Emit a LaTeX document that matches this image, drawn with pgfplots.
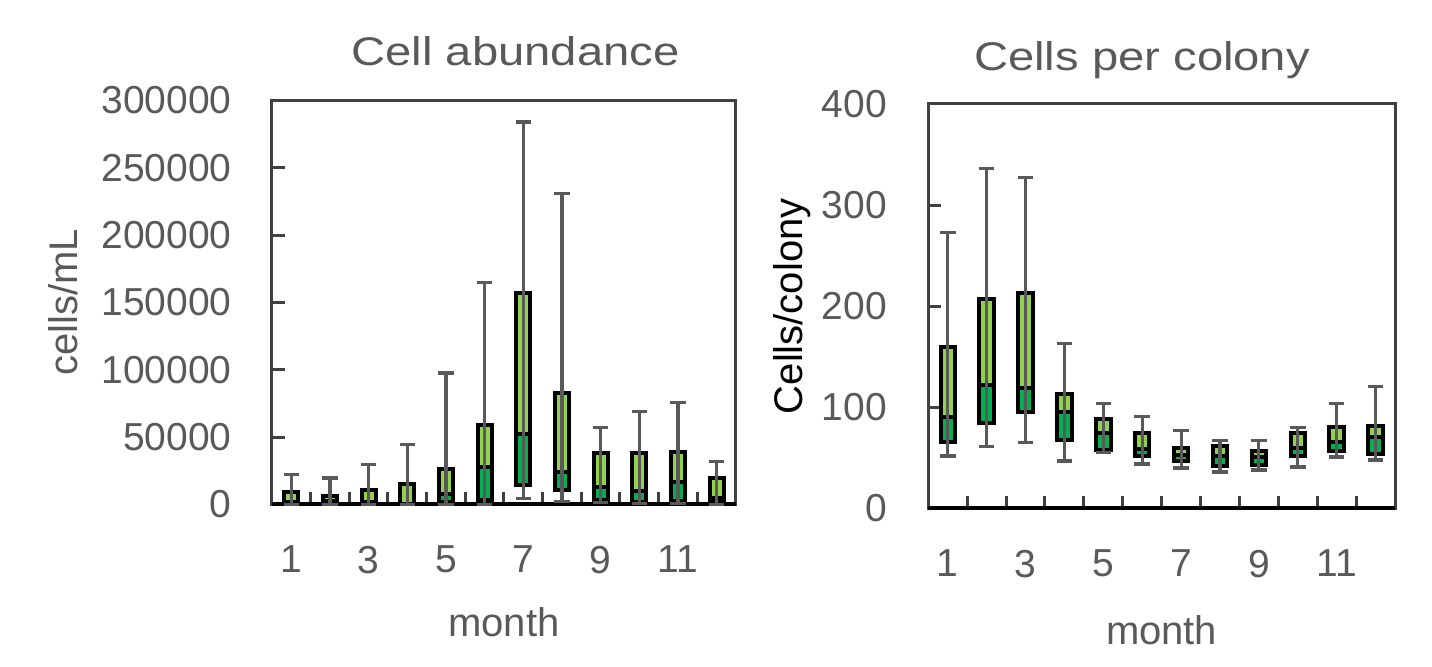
\documentclass[border=0pt]{standalone}
\usepackage{pgfplots}
\pgfplotsset{compat=1.18}
\usepackage{pgfplotstable}
\usepackage{fontspec}
\setmainfont{Liberation Sans}
\newfontfamily\titlefont{Liberation Sans}[FakeStretch=1.18]

\definecolor{txt}{HTML}{595959}
\definecolor{axisgray}{HTML}{404040}
\definecolor{whisk}{HTML}{595959}
\definecolor{boxlow}{HTML}{00B050}
\definecolor{boxhigh}{HTML}{92D050}

% monthly box-plot statistics: whisker low, Q1, median, Q3, whisker high
\pgfplotstableread{
m  wlo    q1     med    q3     whi
1  0      500    1500   9200   22000
2  0      500    2500   6400   19600
3  0      500    1500   10900  29400
4  0      0      0      15100  44800
5  0      1500   7500   26700  97700
6  0      3500   27500  59000  164700
7  4200   14600  52200  156800 284100
8  2000   10900  24000  83100  231000
9  1500   3500   12900  38400  57400
10 1000   2200   10300  38600  69000
11 500    2500   16700  38900  76000
12 0      2200   4500   19600  31900
}\abund

\pgfplotstableread{
m  wlo q1  med q3  whi
1  52  66  90  160 273
2  61  85  122 207 336
3  65  95  119 213 327
4  47  68  95  113 163
5  55  58  75  88  104
6  44  52  59  75  91
7  40  47  53  60  77
8  36  42  52  62  67
9  38  43  51  57  67
10 41  52  60  75  80
11 51  57  66  81  104
12 48  54  71  82  121
}\colony

\pgfplotsset{
  monthframe/.style={
    scale only axis, clip=false,
    xmin=0.5, xmax=12.5, ymin=0,
  },
  boxbase/.style={
    monthframe,
    xtick={1.5,2.5,...,11.5}, xticklabels={},
    extra x ticks={1,3,5,7,9,11},
    extra x tick labels={1,3,5,7,9,11},
    extra x tick style={major tick length=0pt},
    tick align=inside, tick pos=left,
    major tick length=6.25pt,
    axis line style={axisgray, line width=1.5pt},
    tick style={axisgray, line width=1.5pt},
    tick label style={font=\fontsize{19.5}{23}\selectfont, text=txt, inner sep=0pt},
    xticklabel style={anchor=north, yshift=-20.5pt},
    yticklabel style={anchor=east, xshift=-20pt},
    /pgf/number format/.cd, fixed, precision=0, 1000 sep={}, assume math mode=true,
    /pgfplots/.cd,
    scaled y ticks=false,
    xlabel={month},
    xlabel style={font=\fontsize{20}{24}\selectfont, text=txt, inner sep=0pt, anchor=north},
    ylabel style={font=\fontsize{20}{24}\selectfont, inner sep=0pt, anchor=center},
    title style={font=\titlefont\fontsize{20}{24}\selectfont, text=txt, inner sep=0pt, anchor=base},
    ybar stacked, bar width=0.37,
    after end axis/.code={\draw[black, line width=2pt] (rel axis cs:0,0) -- (rel axis cs:1,0);},
  },
  whiskers/.style={
    draw=none, mark=none,
    error bars/.cd, y dir=both, y explicit,
    error mark=|,
    error bar style={draw=whisk, line width=1.6pt},
    error mark options={draw=whisk, line width=1.6pt, mark size=3.9pt},
  },
  boxedge/.style={draw=black, line width=2pt},
}

\begin{document}
\begin{tikzpicture}
\path (0,0) rectangle (716pt,333.5pt);

% ---- Cell abundance ----
\begin{axis}[boxbase,
  at={(136pt,81.25pt)}, anchor=south west, width=232pt, height=202pt,
  ymax=300000, ytick={0,50000,100000,150000,200000,250000,300000},
  title={Cell abundance},
  title style={at={([xshift=5.75pt,yshift=11.4pt]axis description cs:0.5,1)}},
  ylabel={cells/mL},
  ylabel style={at={([xshift=-104.5pt]axis description cs:0,0.5)}, text=txt},
  xlabel style={at={([yshift=-51.25pt]axis description cs:0.5,0)}},
]
\addplot[draw=none, fill=none] table[x=m, y=q1] {\abund};
\addplot[fill=boxlow, boxedge] table[x=m, y expr=\thisrow{med}-\thisrow{q1}] {\abund};
\addplot[fill=boxhigh, boxedge] table[x=m, y expr=\thisrow{q3}-\thisrow{med}] {\abund};
\end{axis}
\begin{axis}[monthframe, hide axis,
  at={(136pt,81.25pt)}, anchor=south west, width=232pt, height=202pt,
  ymax=300000]
\addplot[whiskers] table[x=m, y expr=(\thisrow{wlo}+\thisrow{whi})/2,
  y error expr=(\thisrow{whi}-\thisrow{wlo})/2] {\abund};
\end{axis}

% ---- Cells per colony ----
\begin{axis}[boxbase,
  at={(464.15pt,79.25pt)}, anchor=south west, width=233.35pt, height=202.25pt,
  ymax=400, ytick={0,100,...,400},
  yticklabel style={xshift=-0.5pt},
  title={Cells per colony},
  title style={at={([xshift=-9.8pt,yshift=10.5pt]axis description cs:0.5,1)}},
  ylabel={Cells/colony},
  ylabel style={at={([xshift=-67.9pt]axis description cs:0,0.5)}, text=black},
  xlabel style={at={([yshift=-53.25pt]axis description cs:0.5,0)}},
]
\addplot[draw=none, fill=none] table[x=m, y=q1] {\colony};
\addplot[fill=boxlow, boxedge] table[x=m, y expr=\thisrow{med}-\thisrow{q1}] {\colony};
\addplot[fill=boxhigh, boxedge] table[x=m, y expr=\thisrow{q3}-\thisrow{med}] {\colony};
\end{axis}
\begin{axis}[monthframe, hide axis,
  at={(464.15pt,79.25pt)}, anchor=south west, width=233.35pt, height=202.25pt,
  ymax=400]
\addplot[whiskers] table[x=m, y expr=(\thisrow{wlo}+\thisrow{whi})/2,
  y error expr=(\thisrow{whi}-\thisrow{wlo})/2] {\colony};
\end{axis}
\end{tikzpicture}
\end{document}
